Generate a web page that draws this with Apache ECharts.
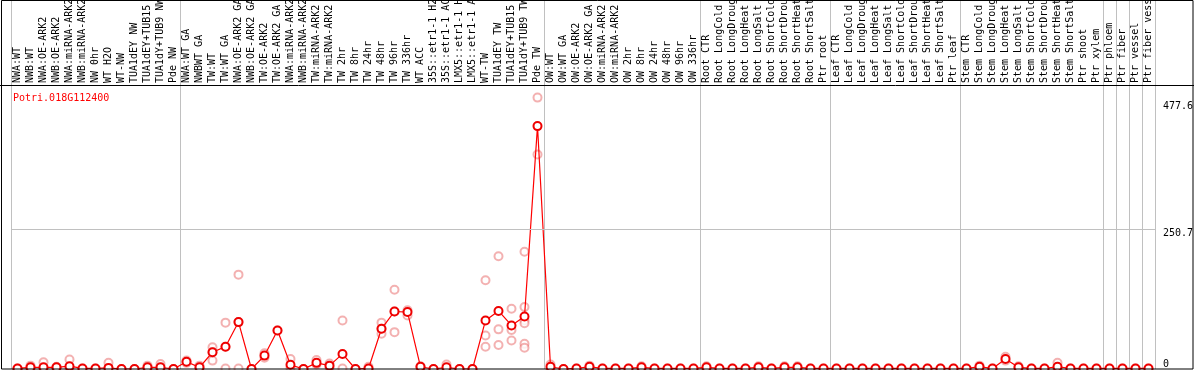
<!DOCTYPE html>
<html><head><meta charset="utf-8">
<script src="https://cdn.jsdelivr.net/npm/echarts@6/dist/echarts.min.js"></script>
<style>html,body{margin:0;padding:0;background:#fff}#c{width:1194px;height:370px}</style>
</head><body><div id="c"></div>
<script>
const geneName = 'Potri.018G112400';
const categories = [
 'NWA:WT','NWB:WT','NWA:OE-ARK2','NWB:OE-ARK2','NWA:miRNA-ARK2','NWB:miRNA-ARK2','NW 0hr','WT H2O','WT-NW','TUA1dEY NW','TUA1dEY+TUB15 NW','TUA1dY+TUB9 NW','Pde NW',
 'NWA:WT GA','NWBWT GA','TW:WT','TW:WT GA','NWA:OE-ARK2 GA','NWB:OE-ARK2 GA','TW:OE-ARK2','TW:OE-ARK2 GA','NWA:miRNA-ARK2','NWB:miRNA-ARK2','TW:miRNA-ARK2','TW:miRNA-ARK2','TW 2hr','TW 8hr','TW 24hr','TW 48hr','TW 96hr','TW 336hr','WT ACC','35S::etr1-1 H2O','35S::etr1-1 ACC','LMX5::etr1-1 H2O','LMX5::etr1-1 ACC','WT-TW','TUA1dEY TW','TUA1dEY+TUB15 TW','TUA1dY+TUB9 TW','Pde TW',
 'OW:WT','OW:WT GA','OW:OE-ARK2','OW:OE-ARK2 GA','OW:miRNA-ARK2','OW:miRNA-ARK2','OW 2hr','OW 8hr','OW 24hr','OW 48hr','OW 96hr','OW 336hr',
 'Root CTR','Root LongCold','Root LongDrought','Root LongHeat','Root LongSalt','Root ShortCold','Root ShortDrought','Root ShortHeat','Root ShortSalt','Ptr root',
 'Leaf CTR','Leaf LongCold','Leaf LongDrought','Leaf LongHeat','Leaf LongSalt','Leaf ShortCold','Leaf ShortDrought','Leaf ShortHeat','Leaf ShortSalt','Ptr leaf',
 'Stem CTR','Stem LongCold','Stem LongDrought','Stem LongHeat','Stem LongSalt','Stem ShortCold','Stem ShortDrought','Stem ShortHeat','Stem ShortSalt','Ptr shoot','Ptr xylem',
 'Ptr phloem','Ptr fiber','Ptr vessel','Ptr fiber vessel'
];
const groupSizes = [13, 28, 12, 10, 10, 11, 1, 1, 1, 1];
const means = [
 1,3,3,3,5,1,1,2,0,0,3,3,0,
 13,3,30,40,84,0,24,69,7.5,0,11,6,27,0,1,72,103,102,4,0,3,0,0,87,104,78,94,435,
 4,0,1,4,1,1,1,3,1,1,1,1,
 3,1,1,1,3,1,3,3,1,1,
 1,1,1,1,1,1,1,1,1,1,
 1,4,1,18,3,1,1,4,1,1,1,
 1,1,1,1
];
const replicates = [
 [1,0.5],[6,1],[12,1],[4,2],[17,2],[1],[1],[11,1],[0],[0],[6,1],[9,1],[0],
 [15,11],[6,1],[39,15,30],[83,1,40],[169,1,84],[0],[28,20],[69],[18,2],[0],[16,8],[10,3],[87,1],[0],[4,0],[83,63,72],[142,66,103],[105,96],[5,3],[0],[8,1],[0],[0],[159,60,40],[202,71,43],[108,70,51],[210,111,87,82,45,38],[486,384],
 [8,1],[0],[1],[6,2],[1],[1],[1],[5,1],[1],[1],[1],[1],
 [5,1],[1],[1],[1],[5,1],[1],[5,1],[5,1],[1],[1],
 [1],[1],[1],[1],[1],[1],[1],[1],[1],[1],
 [1],[6,2],[1],[22,15],[5,1],[1],[1],[11,1],[1],[1],[1],
 [1],[1],[1],[1]
];
const yTickValues = [0, 250.7, 477.6];
const yGridValue = 250.7;
const yMax = 660.8;

const sepStarts = [];
{ let s = 0; groupSizes.forEach(g => { sepStarts.push(s); s += g; }); }

const repData = [];
replicates.forEach((arr, i) => arr.forEach(v => repData.push([i, v])));

const mono = 'DejaVu Sans Mono';
const chart = echarts.init(document.getElementById('c'), null, {renderer: 'canvas'});
chart.setOption({
  animation: false,
  backgroundColor: '#fff',
  title: {text: geneName, left: 8, top: 88, textStyle: {color: '#ff0000', fontFamily: mono, fontSize: 10, fontWeight: 'normal'}},
  grid: {left: 11, right: 39, top: 0, bottom: 1, containLabel: false, outerBoundsMode: 'none'},
  xAxis: {
    type: 'category', position: 'top', data: categories, boundaryGap: true,
    axisLine: {show: false}, axisTick: {show: false},
    axisLabel: {interval: 0, rotate: 90, margin: -83, color: '#000', fontFamily: mono, fontSize: 10, padding: [5, 0, 0, 0]},
    splitLine: {show: true, interval: (idx) => sepStarts.includes(idx), lineStyle: {color: '#c0c0c0', width: 1}}
  },
  yAxis: {
    type: 'value', position: 'right', min: 0, max: yMax,
    axisLine: {show: false}, axisTick: {show: false}, splitLine: {show: false},
    axisLabel: {
      customValues: yTickValues, margin: 8, align: 'left', verticalAlign: 'middle',
      color: '#000', fontFamily: mono, fontSize: 10, lineHeight: 9,
      formatter: v => v === 0 ? '0\n ' : ' \n' + v
    }
  },
  graphic: [
    {type: 'rect', shape: {x: 1.5, y: 0.5, width: 1191.5, height: 368.5}, style: {fill: 'none', stroke: '#000', lineWidth: 1}, z: 100},
    {type: 'line', shape: {x1: 0, y1: 85.5, x2: 1194, y2: 85.5}, style: {stroke: '#000', lineWidth: 1}, z: 100}
  ],
  series: [
    {
      type: 'scatter', data: repData, symbol: 'emptyCircle', symbolSize: 8,
      itemStyle: {color: 'rgba(232,105,105,0.65)', borderColor: 'rgba(232,105,105,0.65)', borderWidth: 1.2}, z: 2,
      markLine: {silent: true, symbol: 'none', label: {show: false}, lineStyle: {color: '#c0c0c0', type: 'solid', width: 1}, data: [{yAxis: yGridValue}]}
    },
    {
      type: 'line', data: means, symbol: 'emptyCircle', symbolSize: 8, showAllSymbol: true,
      lineStyle: {color: '#ff0000', width: 1.2},
      itemStyle: {color: '#ee0000', borderColor: '#ee0000', borderWidth: 1.4}, z: 3
    }
  ]
});
</script></body></html>
